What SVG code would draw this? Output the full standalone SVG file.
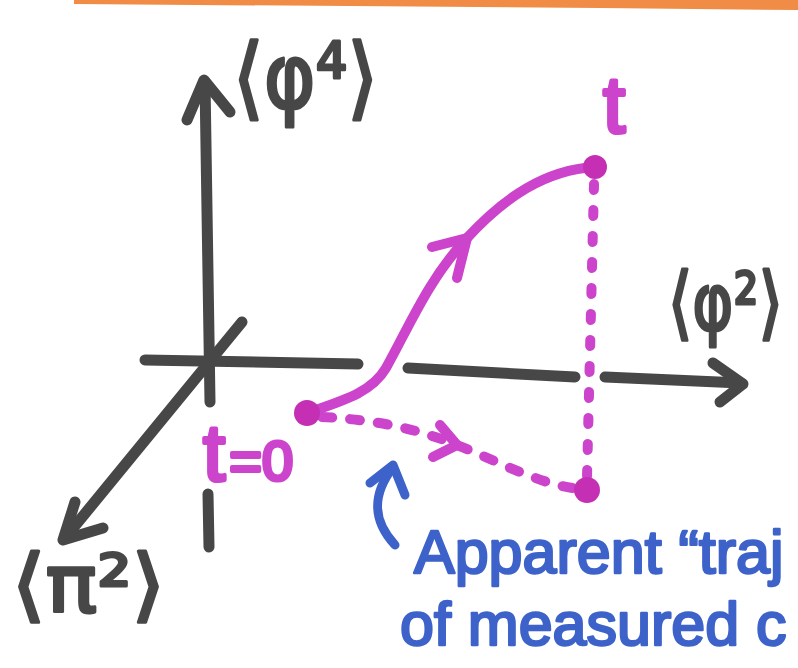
<svg xmlns="http://www.w3.org/2000/svg" width="798" height="668" viewBox="0 0 798 668">
<style>
.ax{fill:none;stroke:#474747;stroke-width:11;stroke-linecap:round;stroke-linejoin:round}
.pk{fill:none;stroke:#cc44cc;stroke-width:10;stroke-linecap:round;stroke-linejoin:round}
.pkd{fill:#c42fb4}
.bl{fill:none;stroke:#3d62c9;stroke-width:9;stroke-linecap:round;stroke-linejoin:round}
.lab{font-family:"DejaVu Sans",sans-serif;fill:#474747;stroke:#474747;stroke-width:3;stroke-linejoin:round}
.plab{font-family:"Liberation Sans","DejaVu Sans",sans-serif;fill:#cc44cc;stroke:#cc44cc;stroke-width:4;stroke-linejoin:round}
.blab{font-family:"Liberation Sans","DejaVu Sans",sans-serif;font-size:61px;fill:#3d62c9;stroke:#3d62c9;stroke-width:2.5;stroke-linejoin:round}
</style>
<rect width="798" height="668" fill="#ffffff"/>
<polygon points="74,0 798,0 798,10 600,8 74,4" fill="#f08c45"/>

<g id="axes">
  <line class="ax" x1="205" y1="82" x2="210" y2="402"/>
  <polyline class="ax" points="187,120 204,80 230,112"/>
  <line class="ax" x1="208" y1="494" x2="209" y2="547"/>
  <line class="ax" x1="145" y1="360" x2="358" y2="364"/>
  <line class="ax" x1="408" y1="368" x2="575" y2="377"/>
  <line class="ax" x1="605" y1="377" x2="741" y2="383"/>
  <polyline class="ax" points="713,363 743,384 720,402"/>
  <line class="ax" x1="242" y1="322" x2="65" y2="538"/>
  <polyline class="ax" points="75,502 63,540 103,528"/>
</g>

<g id="label-phi4">
  <text class="lab" font-size="90" x="233" y="108" textLength="145" lengthAdjust="spacingAndGlyphs">⟨φ⁴⟩</text>
</g>
<g id="label-phi2">
  <text class="lab" font-size="80" transform="translate(668,330) scale(0.78,1)" x="0" y="0">⟨φ²⟩</text>
</g>
<g id="label-pi2">
  <text class="lab" font-size="80" x="12" y="612" textLength="153" lengthAdjust="spacingAndGlyphs">⟨π²⟩</text>
</g>

<g id="connectors">
  <path class="pk" d="M307,413 C345,400 372,392 386,368 C410,325 428,280 467,238 C505,197 545,170 595,167"/>
  <polyline class="pk" points="432,247 467,238 457,278"/>
  <path class="pk" stroke-width="9" stroke-dasharray="10 18" d="M322,417 C380,420 420,430 457,445 C500,462 540,485 580,489"/>
  <polyline class="pk" stroke-width="9" points="440,425 457,445 433,457"/>
  <line class="pk" stroke-width="9" stroke-dasharray="6 20" x1="594" y1="184" x2="587" y2="478"/>
  <path class="bl" d="M395,545 C372,520 372,495 393,467"/>
  <polyline class="bl" points="370,483 393,465 405,495"/>
</g>

<g id="start-point">
  <circle class="pkd" cx="307" cy="413" r="13"/>
  <text class="plab" x="203" y="480" font-size="80">t<tspan font-size="56" dx="4">=0</tspan></text>
</g>
<g id="end-point">
  <circle class="pkd" cx="595" cy="167" r="12"/>
  <text class="plab" x="603" y="132" font-size="80">t</text>
</g>
<g id="projected-point">
  <circle class="pkd" cx="587" cy="490" r="13"/>
</g>

<g id="caption">
  <text class="blab" x="414" y="573">Apparent “traj</text>
  <text class="blab" x="400" y="645">of measured c</text>
</g>
</svg>
